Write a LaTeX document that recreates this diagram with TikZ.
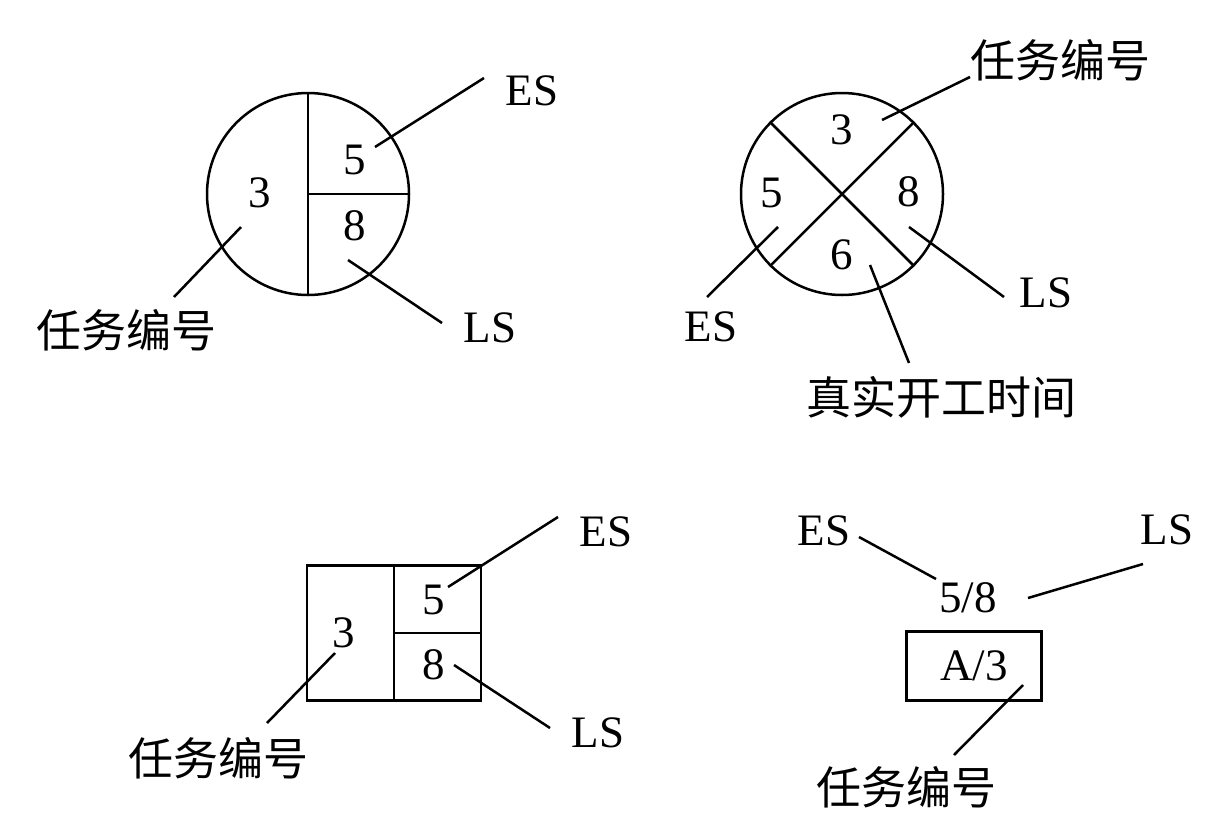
\documentclass[tikz,border=0pt]{standalone}
\usepackage{fontspec}
\setmainfont{Liberation Serif}
\newfontfamily\cjk{Noto Sans CJK SC}
\begin{document}
\begin{tikzpicture}[x=1pt, y=-1pt, line width=2.5pt,
  round node/.style={circle, draw, minimum size=202pt, inner sep=0pt},
  box node/.style={rectangle, draw, inner sep=0pt}]
  \tikzstyle{every node}=[font=\fontsize{45}{50}\selectfont]
  \useasboundingbox (0,0) rectangle (1222,838);

  % circle with one split
  \node[round node] (a) at (308,194) {};
  \draw (a.north) -- (a.south);
  \draw (a.center) -- (a.east);
  \node (a3) at (260,193) {3};
  \node (a5) at (355,160) {5};
  \node (a8) at (355,226) {8};
  \node (aes) at (532,91) {ES};
  \node (als) at (490,328) {LS};
  \node (aid) at (126,330) {\cjk 任务编号};
  \coordinate (a1) at (375,147); \coordinate (a2) at (484,78);
  \coordinate (a4) at (348,260); \coordinate (a6) at (442,323);
  \coordinate (a7) at (241,227); \coordinate (a9) at (174,297);
  \path (a1) edge (a2)
        (a4) edge (a6)
        (a7) edge (a9);

  % circle with a cross
  \node[round node] (b) at (842,194) {};
  \draw (b.north west) -- (b.south east);
  \draw (b.north east) -- (b.south west);
  \node (b3) at (842,130) {3};
  \node (b5) at (772,193) {5};
  \node (b8) at (909,192) {8};
  \node (b6) at (842,255) {6};
  \node (bid) at (1060,60) {\cjk 任务编号};
  \node (bes) at (711,327) {ES};
  \node (bls) at (1046,293) {LS};
  \node (bst) at (941,397) {\cjk 真实开工时间};
  \coordinate (b1) at (882,120); \coordinate (b2) at (970,77);
  \coordinate (b4) at (778,227); \coordinate (b7) at (707,297);
  \coordinate (b9) at (909,227); \coordinate (b10) at (1004,297);
  \coordinate (b11) at (870,265); \coordinate (b12) at (909,363);
  \path (b1) edge (b2)
        (b4) edge (b7)
        (b9) edge (b10)
        (b11) edge (b12);

  % box with one split
  \node[box node, minimum width=174pt, minimum height=135pt] (c) at (394,633) {};
  \draw (c.north) -- (c.south);
  \draw (c.center) -- (c.east);
  \node (c3) at (344,633) {3};
  \node (c5) at (434,600) {5};
  \node (c8) at (434,665) {8};
  \node (ces) at (606,532) {ES};
  \node (cls) at (598,733) {LS};
  \node (cid) at (218,758) {\cjk 任务编号};
  \coordinate (c1) at (448,587); \coordinate (c2) at (558,517);
  \coordinate (c4) at (454,665); \coordinate (c6) at (550,728);
  \coordinate (c7) at (335,653); \coordinate (c9) at (267,723);
  \path (c1) edge (c2)
        (c4) edge (c6)
        (c7) edge (c9);

  % plain box
  \node[box node, minimum width=135pt, minimum height=69pt] (d) at (974,666) {A/3};
  \node (d58) at (968,598) {5/8};
  \node (des) at (824,531) {ES};
  \node (dls) at (1167,530) {LS};
  \node (did) at (906,787) {\cjk 任务编号};
  \coordinate (d1) at (859,537); \coordinate (d2) at (936,579);
  \coordinate (d4) at (1028,598); \coordinate (d6) at (1143,564);
  \coordinate (d7) at (1023,685); \coordinate (d9) at (954,755);
  \path (d1) edge (d2)
        (d4) edge (d6)
        (d7) edge (d9);
\end{tikzpicture}
\end{document}
